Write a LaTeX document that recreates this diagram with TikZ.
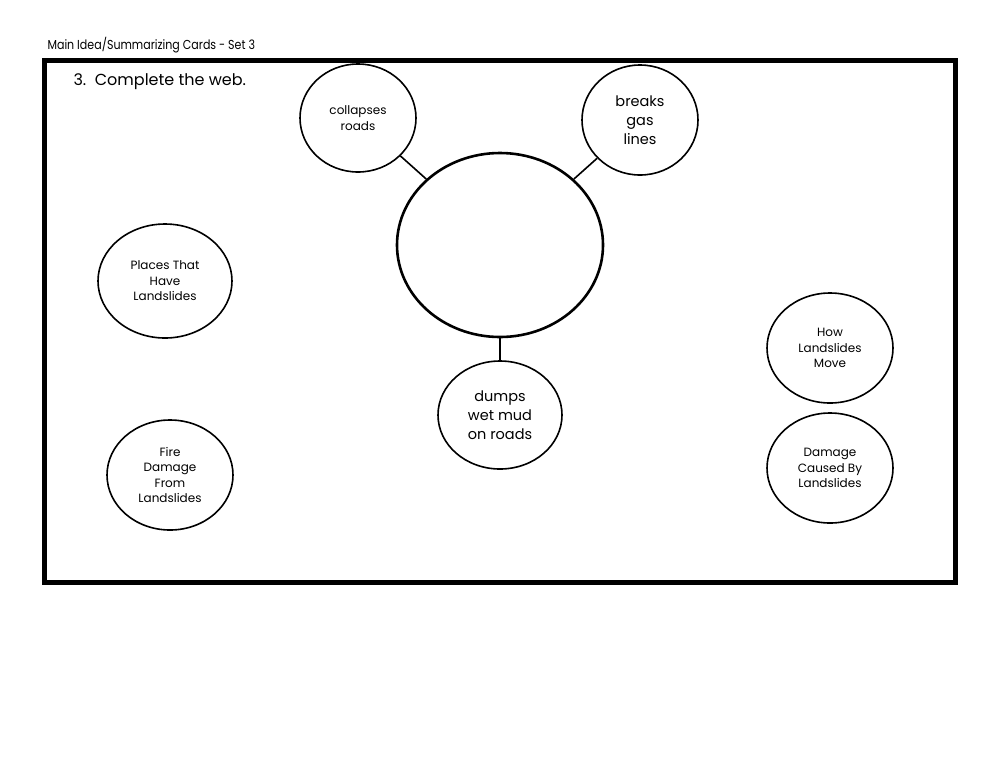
\documentclass[tikz,border=0pt]{standalone}
\usepackage{fontspec}
\setmainfont{Poppins}
\usetikzlibrary{shapes.geometric}
\begin{document}
\begin{tikzpicture}[x=1pt,y=-1pt,
  bub/.style={draw,ellipse,line width=1.6pt,inner sep=0pt,align=center,font=\fontsize{12}{15.5}\selectfont},
  big/.style={bub,font=\fontsize{14.5}{19}\selectfont},
  link/.style={line width=1.6pt}]
\useasboundingbox (0,0) rectangle (1000,772);
\fill[white] (0,0) rectangle (1000,772);
\node[anchor=west,font=\fontsize{13}{15}\selectfont\addfontfeatures{FakeStretch=0.85}] (hdr) at (44,45) {Main Idea/Summarizing Cards - Set 3};
\draw[line width=5pt] (44,60) rectangle (955,582);
\node[anchor=west,font=\fontsize{16}{18}\selectfont] (title) at (70,82) {3.\ \ Complete the web.};
\node[bub,line width=2.6pt,minimum width=206,minimum height=184] (c) at (500,245) {};
\node[bub,minimum width=116,minimum height=108] (a) at (358,118) {collapses\\roads};
\node[big,minimum width=116,minimum height=110] (b) at (640,120) {breaks\\gas\\lines};
\node[big,minimum width=124,minimum height=108] (d) at (500,415) {dumps\\wet mud\\on roads};
\node[bub,minimum width=134,minimum height=114] (p) at (165,281) {Places That\\Have\\Landslides};
\node[bub,minimum width=126,minimum height=110] (f) at (170,475) {Fire\\Damage\\From\\Landslides};
\node[bub,minimum width=126,minimum height=110] (h) at (830,348) {How\\Landslides\\Move};
\node[bub,minimum width=126,minimum height=110] (g) at (830,468) {Damage\\Caused By\\Landslides};
\draw[link] (a) -- (c);
\draw[link] (b) -- (c);
\draw[link] (d) -- (c);
\end{tikzpicture}
\end{document}
